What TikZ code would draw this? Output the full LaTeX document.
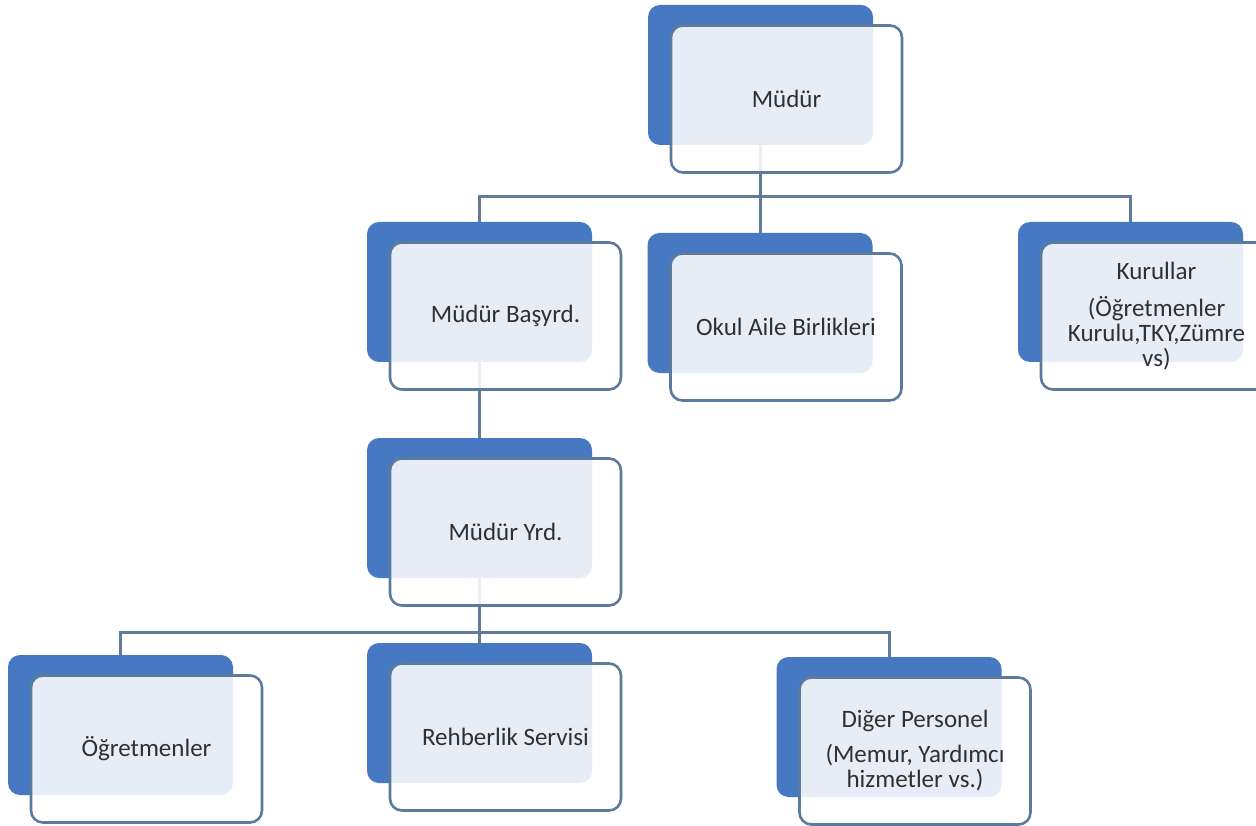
\documentclass[tikz,border=0pt]{standalone}
\usepackage{fontspec}
\setmainfont{Carlito}
\usetikzlibrary{calc}
\definecolor{backblue}{RGB}{70,121,194}
\definecolor{frontline}{RGB}{92,122,158}
\definecolor{connline}{RGB}{96,124,152}
\definecolor{txt}{RGB}{48,48,48}
\tikzset{
  backbox/.style={draw=none, fill=backblue, rounded corners=12pt, minimum width=225pt, minimum height=140pt, inner sep=0pt},
  frontbox/.style={draw=frontline, line width=2.6pt, fill=white, fill opacity=0.87, text opacity=1, rounded corners=12pt, minimum width=231pt, minimum height=147pt, inner sep=0pt, align=center, text=txt, font=\fontsize{25}{25}\selectfont},
  conn/.style={draw=connline, line width=3pt},
}
\begin{document}
\begin{tikzpicture}[x=1pt,y=-1pt]
\useasboundingbox[fill=white] (0,0) rectangle (1256,826);
% back boxes
\node[backbox] (b1) at (760.5,75) {};
\node[backbox] (b2) at (479.5,292) {};
\node[backbox] (b3) at (760,303) {};
\node[backbox] (b4) at (1130.5,292) {};
\node[backbox] (b5) at (479.5,508) {};
\node[backbox] (b6) at (120.5,725) {};
\node[backbox] (b7) at (479.5,713) {};
\node[backbox] (b8) at (889,727) {};
% connectors
\coordinate (bus1) at (760.5,197);
\coordinate (bus2) at (479.5,632);
\draw[conn] (b1.south) -- (bus1);
\draw[conn] (b2.north) |- (bus1);
\draw[conn] (b4.north) |- (bus1);
\draw[conn] (b3.north) -- (b3.north |- bus1);
\draw[conn] (b2.south) -- (b5.north);
\draw[conn] (b5.south) -- (bus2);
\draw[conn] (b6.north) |- (bus2);
\draw[conn] (b8.north) |- (bus2);
\draw[conn] (b7.north) -- (bus2);
% front boxes
\node[frontbox] (f1) at ($(b1)+(26,24)$) {Müdür};
\node[frontbox] (f2) at ($(b2)+(26,24)$) {Müdür Başyrd.};
\node[frontbox] (f3) at ($(b3)+(26,24)$) {Okul Aile Birlikleri};
\node[frontbox] (f4) at ($(b4)+(26,24)$) {Kurullar\\[12pt](Öğretmenler\\Kurulu,TKY,Zümre\\vs)};
\node[frontbox] (f5) at ($(b5)+(26,24)$) {Müdür Yrd.};
\node[frontbox] (f6) at ($(b6)+(26,24)$) {Öğretmenler};
\node[frontbox] (f7) at ($(b7)+(26,24)$) {Rehberlik Servisi};
\node[frontbox] (f8) at ($(b8)+(26,24)$) {Diğer Personel\\[10pt](Memur, Yardımcı\\hizmetler vs.)};
\end{tikzpicture}
\end{document}
